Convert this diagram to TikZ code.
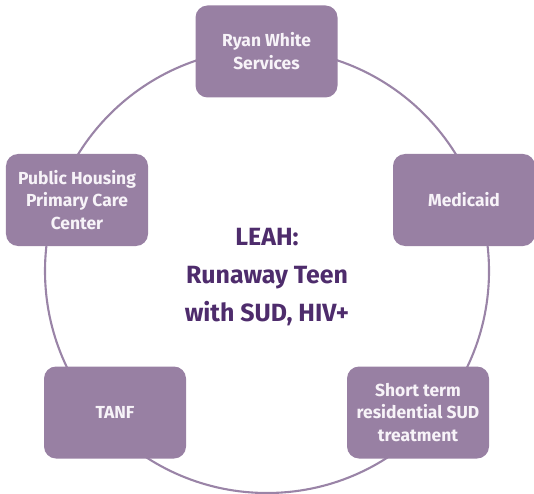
\documentclass[tikz,border=0pt]{standalone}
\usepackage{fontspec}
\setmainfont{Fira Sans}
\definecolor{boxfill}{HTML}{9880A3}
\definecolor{ringcol}{HTML}{9A84A7}
\definecolor{titlecol}{HTML}{4E2C6C}
\definecolor{boxtext}{HTML}{F7F3F8}
\begin{document}
\begin{tikzpicture}[x=1bp,y=-1bp,
  ringstyle/.style={draw=ringcol, line width=2.1bp, circle, minimum size=444bp, inner sep=0pt},
  agency/.style={fill=boxfill, rounded corners=12bp, minimum width=142bp, minimum height=92bp,
    inner sep=2bp, text=boxtext, align=center, font=\fontsize{17.5}{23}\selectfont\bfseries},
  title/.style={text=titlecol, align=center, font=\fontsize{25}{38.5}\selectfont\bfseries}]
\useasboundingbox (0,0) rectangle (534,494);
\node[ringstyle] (ring) at (267,271) {};
\node[agency] (ryan) at (266.5,51.5) {Ryan White\\Services};
\node[agency] (medicaid) at (464,200) {Medicaid};
\node[agency] (housing) at (77,200) {Public Housing\\Primary Care\\Center};
\node[agency] (tanf) at (115,412.5) {TANF};
\node[agency] (shortterm) at (418,412.5) {Short term\\residential SUD\\treatment};
\node[title] (leah) at (267,277) {LEAH:\\Runaway Teen\\with SUD, HIV+};
\end{tikzpicture}
\end{document}
